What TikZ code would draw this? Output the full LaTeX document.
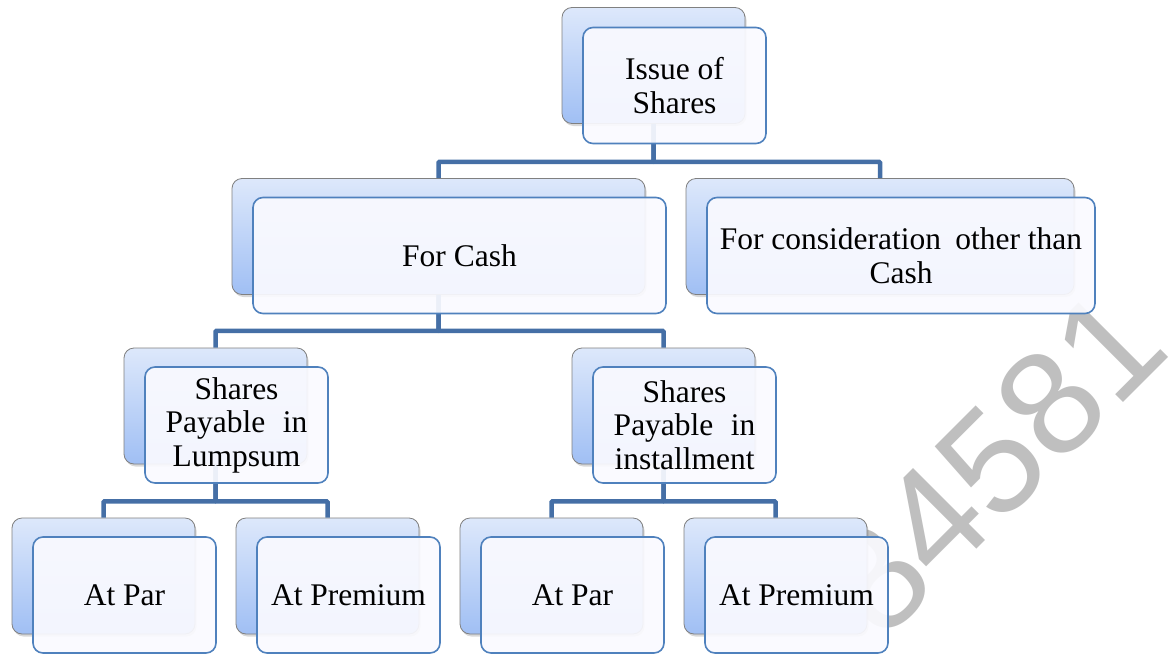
\documentclass[tikz,border=0pt]{standalone}
\usepackage{fontspec}
\setmainfont{Liberation Serif}
\newfontfamily\markfont{Liberation Sans}
\usepackage{tikz}
\usetikzlibrary{shadows}
\usetikzlibrary{calc}
\definecolor{boxtop}{RGB}{221,232,251}
\definecolor{boxbottom}{RGB}{160,191,244}
\definecolor{boxline}{RGB}{79,129,189}
\definecolor{linkblue}{RGB}{69,111,166}
\tikzstyle{backbox}=[rectangle,rounded corners=10pt,draw=black!50,line width=0.8pt,top color=boxtop,bottom color=boxbottom,drop shadow={shadow xshift=1.5pt,shadow yshift=-2.5pt,opacity=0.3},minimum height=116pt,inner sep=0pt]
\tikzstyle{frontbox}=[rectangle,rounded corners=10pt,draw=boxline,line width=1.6pt,fill=blue!2,fill opacity=0.92,text opacity=1,minimum height=116pt,inner sep=0pt,align=center,font=\fontsize{31.5}{33.5}\selectfont]
\tikzstyle{link} = [draw,linkblue,line width=4.5pt,rounded corners=1pt]

\begin{document}
\begin{tikzpicture}[x=1pt,y=-1pt]
    \useasboundingbox[fill=white] (0,0) rectangle (1172,653);

    % watermark behind everything
    \node[text=black!25,rotate=45,font=\markfont\fontsize{148}{148}\selectfont] (mark) at (992,462) {84581};

    % back boxes
    \foreach \pos/ \name/ \w in {{(653.5,65.5)/top/183}, {(438.5,236.5)/cash/413}, {(880,236.5)/other/388},
        {(215.5,406)/lump/183}, {(663.5,406)/inst/183},
        {(103.5,576)/par1/183}, {(327.5,576)/prem1/183}, {(551.5,576)/par2/183}, {(775.5,576)/prem2/183}}
        \node[backbox,minimum width=\w pt] (\name) at \pos {};

    % connectors between the back boxes
    \path[link] (top.south) -- ++(0,38) -| (cash.north);
    \path[link] (top.south) -- ++(0,38) -| (other.north);
    \path[link] (cash.south) -- ++(0,36) -| (lump.north);
    \path[link] (cash.south) -- ++(0,36) -| (inst.north);
    \path[link] (lump.south) -- ++(0,37) -| (par1.north);
    \path[link] (lump.south) -- ++(0,37) -| (prem1.north);
    \path[link] (inst.south) -- ++(0,37) -| (par2.north);
    \path[link] (inst.south) -- ++(0,37) -| (prem2.north);

    % front boxes with the labels
    \foreach \pos/ \name/ \w/ \label in {{(674.5,85.5)/topf/183/{Issue of\\Shares}},
        {(459.5,255.5)/cashf/413/{For Cash}},
        {(901,255.5)/otherf/388/{For consideration\hspace{0.2em} other than\\Cash}},
        {(236.5,425)/lumpf/183/{Shares\\Payable\hspace{0.3em} in\\Lumpsum}},
        {(684.5,425)/instf/183/{Shares\\Payable\hspace{0.3em} in\\installment}},
        {(124.5,595)/par1f/183/{At Par}}, {(348.5,595)/prem1f/183/{At Premium}},
        {(572.5,595)/par2f/183/{At Par}}, {(796.5,595)/prem2f/183/{At Premium}}}
        \node[frontbox,minimum width=\w pt] (\name) at \pos {\label};

\end{tikzpicture}
\end{document}
